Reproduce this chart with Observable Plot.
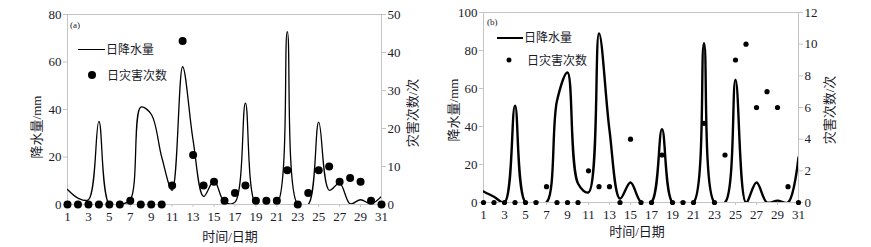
<!DOCTYPE html>
<html>
<head>
<meta charset="utf-8">
<script src="https://cdn.jsdelivr.net/npm/d3@7"></script>
<script src="https://cdn.jsdelivr.net/npm/@observablehq/plot@0.6"></script>
<style>
  html, body { margin: 0; padding: 0; background: #fff; }
  #wrap { position: relative; width: 871px; height: 247px; overflow: hidden;
          font-family: "Liberation Serif", "Noto Sans CJK SC", serif; color: #1a1a2a; }
  .panel { position: absolute; top: 0; }
  .lbl { position: absolute; white-space: nowrap; font-size: 13px; line-height: 1; }
  .rot { transform: translate(-50%, -50%) rotate(-90deg); }
  .ctr { transform: translate(-50%, -50%); }
  .leg { position: absolute; white-space: nowrap; font-size: 12px; line-height: 1; transform: translateY(-50%); }
  .swline { position: absolute; height: 0; border-top: 1.5px solid #000; }
  .swdot { position: absolute; border-radius: 50%; background: #000; transform: translate(-50%, -50%); }
</style>
</head>
<body>
<div id="wrap">
  <div id="pa" class="panel" style="left:0px;width:440px;height:247px"></div>
  <div id="pb" class="panel" style="left:440px;width:431px;height:247px"></div>

  <div class="lbl rot" style="left:36px;top:127px">降水量/mm</div>
  <div class="lbl rot" style="left:412px;top:113px">灾害次数/次</div>
  <div class="lbl ctr" style="left:230px;top:236px">时间/日期</div>
  <div class="leg" style="left:70px;top:25px;font-size:9px">(a)</div>
  <div class="swline" style="left:78px;top:49px;width:27px"></div>
  <div class="leg" style="left:106px;top:50px">日降水量</div>
  <div class="swdot" style="left:92px;top:75px;width:8px;height:8px"></div>
  <div class="leg" style="left:107px;top:76px">日灾害次数</div>

  <div class="lbl rot" style="left:453px;top:110px">降水量/mm</div>
  <div class="lbl rot" style="left:829px;top:110px">灾害次数/次</div>
  <div class="lbl ctr" style="left:637px;top:231px">时间/日期</div>
  <div class="leg" style="left:487px;top:22px;font-size:9px">(b)</div>
  <div class="swline" style="left:497px;top:37px;width:26px;border-top-width:2.5px"></div>
  <div class="leg" style="left:524px;top:38px">日降水量</div>
  <div class="swdot" style="left:509px;top:60px;width:5px;height:5px"></div>
  <div class="leg" style="left:527px;top:61px">日灾害次数</div>
</div>
<script>
const days = d3.range(1, 32);
const xTicks = [1,3,5,7,9,11,13,15,17,19,21,23,25,27,29,31];

// Panel (a)
const rainA = [6.3,2.7,2,35,0,0,2,41,38,20,6,58,27,3.4,10,1,1,42.7,0,0,0,72.8,0,0,34.7,6,9,0.3,2,0.3,3.4];
const disA  = [0,0,0,0,0,0,1,0,0,0,5,43,13,5,6,1,3,5,1,1,1,9,0,3,9,10,6,7,6,1,0];
const leftTicksA = [0,20,40,60,80];
const rightTicksA = [0,10,20,30,40,50];

// Panel (b)
const rainB = [5.8,3,0,51,0,0,0,53.5,68.4,10,5.3,89,38,2,10.5,0.3,0.3,38.6,0,0,0,83.9,0,0,64.6,0,10.5,0,1,0,23.7];
const disB  = [0,0,0,0,0,0,1,0,0,0,2,1,1,0,4,0,0,3,0,0,0,5,0,3,9,10,6,7,6,1,0];
const leftTicksB = [0,20,40,60,80,100];
const rightTicksB = [0,2,4,6,8,10,12];

function panel({rain, dis, leftTicks, rightTicks, yMax, rMax, width, ml, mr, mt, mb, lineW, dotR}) {
  const k = yMax / rMax;
  const data = days.map((d, i) => ({day: d, rain: rain[i], dis: dis[i]}));
  const gray = "#c4c4c4";
  return Plot.plot({
    width, height: 247,
    marginLeft: ml, marginRight: mr, marginTop: mt, marginBottom: mb,
    x: {domain: [1, 31]},
    y: {domain: [0, yMax]},
    style: {fontFamily: "'Liberation Serif', serif", fontSize: "13px", color: "#1a1a2a", background: "transparent", overflow: "visible"},
    marks: [
      Plot.frame({stroke: gray}),
      Plot.axisY(leftTicks, {anchor: "left", tickSize: 4, tickPadding: 2, stroke: gray, label: null, fill: "#1a1a2a"}),
      Plot.axisY(rightTicks.map(v => v * k), {anchor: "right", tickSize: 4, tickPadding: 2, stroke: gray, label: null,
        tickFormat: v => String(Math.round(v / k)), fill: "#1a1a2a"}),
      Plot.axisX(xTicks, {anchor: "bottom", tickSize: 3, tickPadding: 4, stroke: gray, label: null, fill: "#1a1a2a"}),
      Plot.line(data, {x: "day", y: "rain", curve: "catmull-rom", stroke: "#000", strokeWidth: lineW, clip: true}),
      Plot.dot(data, {x: "day", y: d => d.dis * k, r: dotR, fill: "#000", stroke: "none"})
    ]
  });
}

document.getElementById("pa").appendChild(panel({
  rain: rainA, dis: disA, leftTicks: leftTicksA, rightTicks: rightTicksA, yMax: 80, rMax: 50,
  width: 440, ml: 67, mr: 59, mt: 14, mb: 43, lineW: 1.3, dotR: 4
}));
document.getElementById("pb").appendChild(panel({
  rain: rainB, dis: disB, leftTicks: leftTicksB, rightTicks: rightTicksB, yMax: 100, rMax: 12,
  width: 431, ml: 43, mr: 73, mt: 12, mb: 45, lineW: 2.4, dotR: 2.6
}));
</script>
</body>
</html>
